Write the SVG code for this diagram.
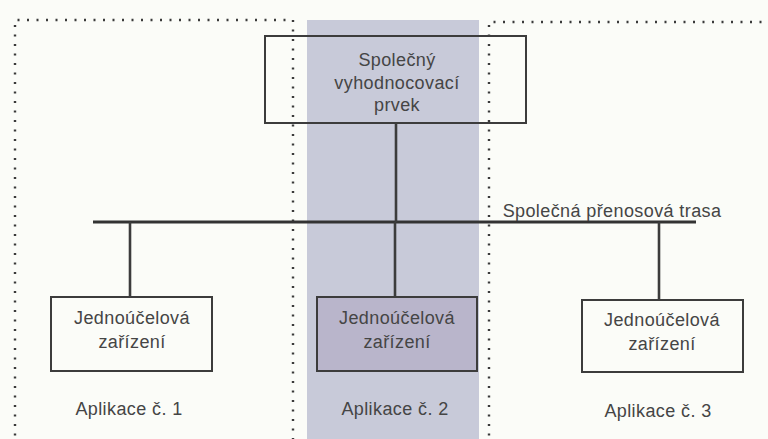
<svg xmlns="http://www.w3.org/2000/svg" width="768" height="439" viewBox="0 0 768 439">
  <style>
    .zone { fill: none; stroke: #3a3a3a; stroke-width: 2.4; stroke-dasharray: 2 7.5; }
    .box { fill: none; stroke: #3c3c3c; stroke-width: 2; }
    .wire { stroke: #3c3c3c; stroke-width: 2.6; fill: none; }
    .bus { stroke: #333; stroke-width: 3; }
    text { font-family: "Liberation Sans", Arial, sans-serif; font-size: 18px; letter-spacing: 0.4px; fill: #454545; text-anchor: middle; }
  </style>
  <rect width="768" height="439" fill="#fbfcf8"/>

  <!-- application zones -->
  <g id="zone-1">
    <path class="zone" d="M15,445 V20 H293 V445"/>
    <text x="129" y="415">Aplikace č. 1</text>
  </g>
  <g id="zone-2">
    <rect x="307" y="20" width="172" height="425" fill="#c8cad9"/>
    <text x="395" y="415">Aplikace č. 2</text>
  </g>
  <g id="zone-3">
    <path class="zone" d="M489,445 V22 H775"/>
    <text x="658" y="417">Aplikace č. 3</text>
  </g>

  <!-- connectors -->
  <g id="connectors">
    <line class="bus" x1="93" y1="222" x2="696" y2="222"/>
    <line class="wire" x1="396" y1="123" x2="396" y2="222"/>
    <line class="wire" x1="130" y1="222" x2="130" y2="297"/>
    <line class="wire" x1="395" y1="222" x2="395" y2="297"/>
    <line class="wire" x1="659" y1="222" x2="659" y2="300"/>
    <text x="612" y="217">Společná přenosová trasa</text>
  </g>

  <g id="evaluator">
    <rect class="box" x="265" y="36" width="261" height="87"/>
    <text x="397" y="66">Společný</text>
    <text x="397" y="89">vyhodnocovací</text>
    <text x="397" y="111">prvek</text>
  </g>

  <g id="device-1">
    <rect class="box" x="51" y="297" width="161" height="74" fill="#fcfdfb"/>
    <text x="132" y="324">Jednoúčelová</text>
    <text x="132" y="348">zařízení</text>
  </g>
  <g id="device-2">
    <rect class="box" x="317" y="297" width="160" height="74" style="fill:#b9b5cb"/>
    <text x="397" y="324">Jednoúčelová</text>
    <text x="397" y="348">zařízení</text>
  </g>
  <g id="device-3">
    <rect class="box" x="582" y="300" width="161" height="72" fill="#fcfdfb"/>
    <text x="662" y="326">Jednoúčelová</text>
    <text x="662" y="350">zařízení</text>
  </g>
</svg>
